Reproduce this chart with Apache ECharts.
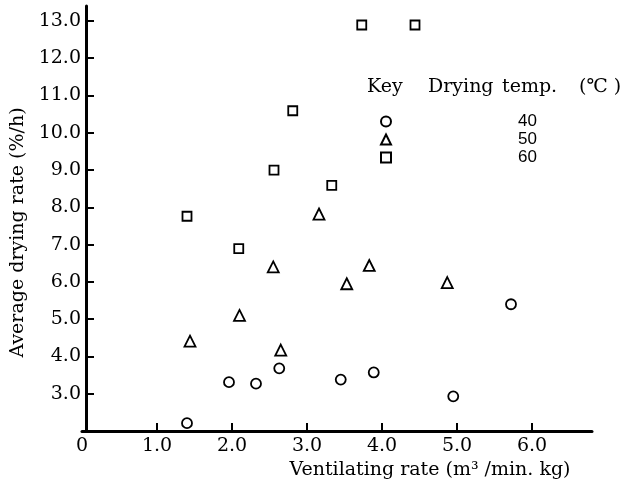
<!DOCTYPE html>
<html>
<head>
<meta charset="utf-8">
<script src="https://cdn.jsdelivr.net/npm/echarts@6/dist/echarts.min.js"></script>
<style>html,body{margin:0;padding:0;background:#fff}#c{width:623px;height:486px}</style>
</head>
<body>
<div id="c"></div>
<script>
// Ventilating rate (x) and average drying rate (y) per drying temperature
const temp40 = [[1.40,2.21],[1.96,3.31],[2.32,3.27],[2.63,3.68],[3.45,3.38],[3.89,3.57],[4.95,2.93],[5.72,5.40]];
const temp50 = [[1.44,4.41],[2.10,5.10],[2.55,6.40],[2.65,4.17],[3.16,7.82],[3.53,5.95],[3.83,6.44],[4.87,5.98]];
const temp60 = [[1.40,7.76],[2.09,6.89],[2.56,9.00],[2.81,10.59],[3.33,8.59],[3.73,12.89],[4.44,12.89]];
const seriesNames = ['40','50','60'];
const xTicks = [1,2,3,4,5,6];
const xLabels = [0,1,2,3,4,5,6];
const yTicks = [3,4,5,6,7,8,9,10,11,12,13];

const serif = 'DejaVu Serif';
const mk = (name, data, symbol, size) => ({
  name, type: 'scatter', data, symbol, symbolSize: size,
  itemStyle: {color: '#fff', borderColor: '#000', borderWidth: 1.8, opacity: 1},
  emphasis: {disabled: true}
});

const chart = echarts.init(document.getElementById('c'), null, {renderer: 'canvas'});
chart.setOption({
  backgroundColor: '#fff',
  animation: false,
  grid: {left: 82, right: 31, top: 6, bottom: 55},
  xAxis: {
    type: 'value', min: 0, max: 6.8,
    name: 'Ventilating rate (m³ /min. kg)',
    nameLocation: 'middle', nameGap: 30,
    nameTextStyle: {fontFamily: serif, fontSize: 19, color: '#000', padding: [0,0,0,186]},
    axisLine: {show: true, onZero: false, lineStyle: {color: '#000', width: 3}},
    axisTick: {show: true, inside: true, length: 8, customValues: xTicks, lineStyle: {color: '#000', width: 2}},
    axisLabel: {customValues: xLabels, fontFamily: serif, fontSize: 19, color: '#000', margin: 6,
      formatter: v => v === 0 ? '0' : v.toFixed(1)},
    splitLine: {show: false}
  },
  yAxis: {
    type: 'value', min: 2, max: 13.4, offset: -4,
    name: 'Average drying rate (%/h)',
    nameLocation: 'middle', nameGap: 58,
    nameTextStyle: {fontFamily: serif, fontSize: 19, color: '#000', padding: [0,28,0,0]},
    axisLine: {show: true, onZero: false, lineStyle: {color: '#000', width: 3}},
    axisTick: {show: true, inside: true, length: 8, customValues: yTicks, lineStyle: {color: '#000', width: 2}},
    axisLabel: {customValues: yTicks, fontFamily: serif, fontSize: 19, color: '#000', margin: 5,
      formatter: v => v.toFixed(1)},
    splitLine: {show: false}
  },
  legend: {
    orient: 'vertical', left: 375, top: 108, itemGap: 1, itemWidth: 10, itemHeight: 10,
    data: [
      {name: '40', icon: 'circle'},
      {name: '50', icon: 'triangle'},
      {name: '60', icon: 'rect'}
    ],
    textStyle: {fontFamily: 'Liberation Sans', fontSize: 17, lineHeight: 16, color: '#000', padding: [0,0,0,122]},
    selectedMode: false
  },
  graphic: [
    {type: 'text', left: 367, top: 78, style: {text: 'Key', font: '19px "DejaVu Serif"', fill: '#000'}},
    {type: 'text', left: 428, top: 78, style: {text: 'Drying', font: '19px "DejaVu Serif"', fill: '#000'}},
    {type: 'text', left: 502, top: 78, style: {text: 'temp.', font: '19px "DejaVu Serif"', fill: '#000'}},
    {type: 'text', left: 579, top: 78, style: {text: '(℃ )', font: '19px "DejaVu Serif"', fill: '#000'}}
  ],
  series: [
    mk(seriesNames[0], temp40, 'circle', 10),
    mk(seriesNames[1], temp50, 'triangle', 11),
    mk(seriesNames[2], temp60, 'rect', 9)
  ]
});
</script>
</body>
</html>
